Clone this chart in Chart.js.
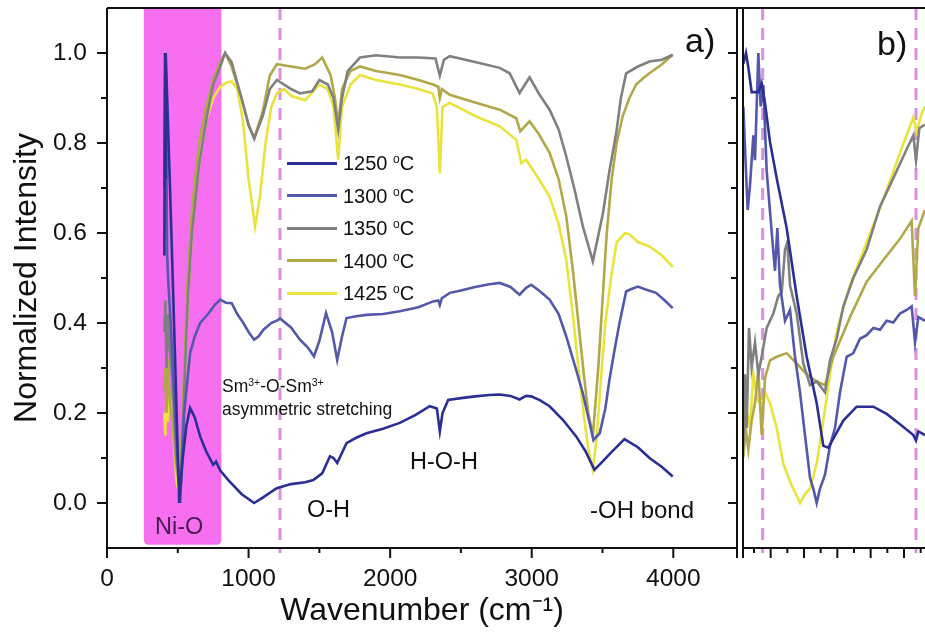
<!DOCTYPE html>
<html>
<head>
<meta charset="utf-8">
<script src="https://cdn.jsdelivr.net/npm/chart.js@4"></script>
<style>
  body { margin: 0; background: #fff; }
  #wrap { position: relative; width: 925px; height: 640px; overflow: hidden;
          font-family: 'Liberation Sans', Arial, sans-serif; color: #111; }
  canvas { position: absolute; top: 0; }
  .lbl { position: absolute; white-space: nowrap; line-height: 1; }
  .lbl sup { font-size: 0.6em; vertical-align: 0.6em; line-height: 0; }
  .key { position: absolute; width: 50px; height: 3px; }
</style>
</head>
<body>
<div id="wrap">
  <canvas id="panelA" width="740" height="640" style="left:0"></canvas>
  <canvas id="panelB" width="185" height="640" style="left:740px"></canvas>

  <div class="lbl" style="left:685px; top:23px; font-size:34px">a)</div>
  <div class="lbl" style="left:877px; top:26px; font-size:34px">b)</div>
  <div class="lbl" style="left:222px; top:378px; font-size:17.5px">Sm<sup>3+</sup>-O-Sm<sup>3+</sup></div>
  <div class="lbl" style="left:222px; top:401px; font-size:17.5px">asymmetric stretching</div>
  <div class="lbl" style="left:307px; top:498px; font-size:23.5px">O-H</div>
  <div class="lbl" style="left:410px; top:450px; font-size:23.5px">H-O-H</div>
  <div class="lbl" style="left:590px; top:498px; font-size:24px">-OH bond</div>
  <div class="lbl" style="left:155px; top:515px; font-size:23.5px; color:#4b1850">Ni-O</div>
  <div id="legend"></div>
</div>

<script>
// ===== Data =====
const labels = ['1250', '1300', '1350', '1400', '1425'];
const colors = ['#2b2f94', '#5358aa', '#808080', '#b1a84a', '#e9e33c'];

const xTicksA = [0, 1000, 2000, 3000, 4000];
const yTicks = [0.0, 0.2, 0.4, 0.6, 0.8, 1.0];

// panel a: [wavenumber, normalized intensity]
const a1250 = [[405,0.55],[410,1.0],[413,0.72],[416,1.0],[420,0.95],[450,0.65],[480,0.33],[510,0.0],[535,0.1],[560,0.17],[587,0.211],[620,0.19],[658,0.148],[700,0.115],[750,0.085],[770,0.092],[800,0.072],[857,0.051],[950,0.02],[1039,0.0],[1100,0.012],[1199,0.033],[1300,0.042],[1400,0.046],[1457,0.051],[1520,0.066],[1575,0.104],[1600,0.1],[1626,0.089],[1692,0.133],[1760,0.145],[1833,0.155],[1950,0.165],[2068,0.178],[2180,0.196],[2280,0.215],[2330,0.21],[2351,0.159],[2370,0.2],[2410,0.229],[2500,0.233],[2600,0.237],[2700,0.24],[2774,0.241],[2850,0.238],[2914,0.23],[2960,0.238],[2997,0.237],[3060,0.228],[3126,0.215],[3220,0.185],[3314,0.148],[3380,0.115],[3443,0.074],[3500,0.092],[3560,0.112],[3655,0.142],[3750,0.124],[3832,0.1],[3920,0.08],[3996,0.059]];
const a1300 = [[405,0.7],[410,0.95],[414,0.6],[418,0.85],[425,0.55],[435,0.48],[450,0.4],[480,0.2],[517,0.0],[545,0.2],[587,0.333],[620,0.37],[658,0.4],[700,0.415],[729,0.426],[760,0.44],[799,0.452],[840,0.445],[881,0.444],[920,0.42],[963,0.4],[1000,0.38],[1039,0.363],[1070,0.37],[1105,0.385],[1160,0.4],[1210,0.407],[1222,0.41],[1300,0.39],[1363,0.363],[1420,0.345],[1462,0.326],[1500,0.36],[1547,0.422],[1590,0.38],[1626,0.318],[1660,0.37],[1692,0.411],[1760,0.415],[1833,0.418],[1950,0.42],[2068,0.426],[2200,0.435],[2303,0.448],[2340,0.45],[2351,0.44],[2365,0.455],[2421,0.467],[2500,0.472],[2600,0.48],[2700,0.486],[2774,0.489],[2850,0.48],[2914,0.463],[2960,0.478],[2997,0.485],[3060,0.47],[3126,0.452],[3190,0.42],[3244,0.37],[3310,0.3],[3361,0.244],[3400,0.19],[3436,0.14],[3480,0.155],[3520,0.21],[3549,0.274],[3585,0.34],[3620,0.4],[3667,0.47],[3700,0.475],[3750,0.481],[3800,0.475],[3878,0.467],[3940,0.45],[3996,0.433]];
const a1350 = [[405,0.38],[412,0.45],[420,0.3],[428,0.42],[440,0.35],[460,0.28],[490,0.1],[515,0.03],[540,0.2],[570,0.45],[600,0.6],[650,0.75],[700,0.85],[750,0.93],[800,0.97],[834,1.0],[880,0.98],[950,0.9],[1000,0.84],[1040,0.81],[1100,0.86],[1150,0.92],[1200,0.94],[1250,0.93],[1300,0.92],[1363,0.91],[1450,0.915],[1500,0.94],[1560,0.93],[1600,0.9],[1633,0.83],[1660,0.9],[1700,0.96],[1787,0.99],[1900,0.995],[2068,0.99],[2200,0.99],[2320,0.988],[2351,0.95],[2380,0.985],[2421,0.993],[2600,0.98],[2774,0.967],[2844,0.955],[2914,0.911],[2985,0.946],[3050,0.91],[3126,0.874],[3190,0.83],[3244,0.77],[3300,0.7],[3361,0.615],[3432,0.537],[3503,0.644],[3550,0.74],[3597,0.822],[3630,0.9],[3667,0.955],[3750,0.97],[3832,0.981],[3920,0.985],[3996,0.996]];
const a1400 = [[405,0.25],[412,0.3],[420,0.2],[430,0.32],[445,0.22],[465,0.18],[490,0.08],[515,0.03],[540,0.25],[570,0.5],[600,0.65],[650,0.8],[700,0.88],[750,0.94],[800,0.98],[834,1.0],[880,0.97],[950,0.9],[1000,0.84],[1040,0.81],[1100,0.87],[1150,0.95],[1200,0.975],[1300,0.97],[1400,0.965],[1470,0.975],[1520,0.99],[1580,0.95],[1610,0.9],[1633,0.84],[1660,0.92],[1720,0.96],[1787,0.97],[1900,0.96],[2068,0.951],[2200,0.94],[2303,0.93],[2340,0.925],[2351,0.9],[2365,0.92],[2421,0.907],[2600,0.89],[2774,0.874],[2891,0.855],[2919,0.826],[2985,0.848],[3050,0.82],[3126,0.778],[3190,0.72],[3244,0.637],[3290,0.52],[3330,0.4],[3370,0.28],[3400,0.2],[3432,0.15],[3470,0.3],[3500,0.45],[3530,0.6],[3565,0.72],[3600,0.8],[3643,0.86],[3690,0.9],[3738,0.93],[3790,0.945],[3832,0.955],[3920,0.975],[3996,0.996]];
const a1425 = [[405,0.2],[412,0.15],[420,0.25],[430,0.18],[440,0.24],[460,0.2],[490,0.05],[510,0.02],[540,0.2],[570,0.45],[600,0.6],[650,0.75],[700,0.85],[750,0.9],[800,0.925],[850,0.935],[880,0.937],[920,0.92],[960,0.85],[1000,0.72],[1046,0.615],[1080,0.68],[1120,0.8],[1160,0.88],[1200,0.91],[1250,0.92],[1300,0.905],[1400,0.895],[1500,0.93],[1560,0.92],[1600,0.88],[1633,0.763],[1660,0.88],[1720,0.93],[1787,0.951],[1900,0.94],[2068,0.93],[2200,0.92],[2300,0.91],[2330,0.88],[2351,0.733],[2370,0.88],[2421,0.889],[2600,0.86],[2774,0.837],[2891,0.807],[2926,0.755],[2960,0.763],[3050,0.72],[3126,0.681],[3190,0.62],[3244,0.54],[3290,0.42],[3330,0.3],[3370,0.19],[3400,0.12],[3432,0.074],[3460,0.15],[3490,0.28],[3520,0.4],[3560,0.5],[3600,0.58],[3660,0.6],[3690,0.597],[3750,0.58],[3832,0.57],[3920,0.55],[3996,0.525]];

// panel b (zoomed low-wavenumber region)
const b1250 = [[409,0.976],[413,1.0],[416.5,0.968],[421.5,0.913],[431.5,0.913],[436.5,0.933],[441.5,0.889],[449,0.802],[459,0.722],[474,0.611],[489,0.46],[504,0.325],[519,0.222],[529,0.127],[536.5,0.123],[544,0.143],[559,0.183],[579,0.214],[604,0.214],[624,0.198],[644,0.175],[664,0.151],[668,0.139],[671.5,0.159],[681.5,0.151]];
const b1300 = [[409,0.881],[412.5,0.754],[415.5,0.651],[419,0.706],[424,0.817],[426.5,0.762],[431.5,1.0],[435,0.881],[439,0.929],[444,0.738],[451.5,0.603],[456.5,0.516],[460,0.611],[464,0.484],[471.5,0.405],[479,0.429],[486.5,0.325],[494,0.246],[501.5,0.151],[509,0.056],[514,0.032],[519,0.0],[524,0.032],[531.5,0.063],[539,0.127],[546.5,0.167],[554,0.246],[564,0.325],[574,0.333],[584,0.365],[594,0.373],[604,0.389],[614,0.385],[624,0.405],[634,0.401],[644,0.421],[654,0.429],[661.5,0.437],[666.5,0.357],[671.5,0.413],[681.5,0.405]];
const b1350 = [[409,0.127],[411.5,0.286],[414,0.167],[417.5,0.389],[421.5,0.302],[426.5,0.357],[431.5,0.286],[436.5,0.325],[444,0.389],[454,0.421],[461.5,0.46],[466.5,0.468],[471.5,0.563],[475,0.579],[479,0.484],[489,0.421],[499,0.31],[509,0.262],[519,0.27],[531.5,0.246],[539,0.317],[549,0.365],[559,0.437],[574,0.5],[594,0.563],[614,0.659],[634,0.722],[654,0.786],[664,0.817],[668,0.762],[673,0.833],[681.5,0.841]];
const b1400 = [[409,0.103],[412.5,0.167],[416.5,0.119],[421.5,0.183],[426.5,0.222],[431.5,0.294],[436.5,0.151],[441.5,0.278],[449,0.317],[459,0.325],[474,0.333],[489,0.31],[504,0.286],[519,0.27],[531.5,0.262],[544,0.325],[569,0.413],[594,0.492],[619,0.54],[644,0.587],[661.5,0.627],[666.5,0.46],[671.5,0.611],[681.5,0.651]];
const b1425 = [[409,0.151],[414,0.206],[419,0.167],[424,0.286],[430,0.23],[436.5,0.214],[441.5,0.246],[449,0.222],[459,0.167],[469,0.087],[479,0.048],[489,0.016],[494,0.0],[501.5,0.02],[509,0.032],[519,0.087],[529,0.183],[539,0.286],[549,0.381],[569,0.484],[594,0.579],[619,0.675],[644,0.778],[664,0.857],[669,0.825],[676.5,0.865],[681.5,0.881]];

const seriesA = [a1250, a1300, a1350, a1400, a1425];
const seriesB = [b1250, b1300, b1350, b1400, b1425];

const niOBand = [260, 808];
const markA = [1222];
const markB = [438, 668];

// ===== Helpers =====
Chart.defaults.font.family = "'Liberation Sans', Arial, sans-serif";
Chart.defaults.color = '#111';

function toDatasets(list) {
    return list.map((pts, i) => ({
        label: labels[i] + ' °C',
        data: pts.map(([x, y]) => ({ x, y })),
        borderColor: colors[i],
        borderWidth: 2.6,
        pointRadius: 0,
        tension: 0
    }));
}

function dashedLines(chart, values) {
    const { ctx, chartArea: { top, bottom }, scales: { x } } = chart;
    ctx.save();
    ctx.strokeStyle = '#dc8ee3';
    ctx.lineWidth = 3;
    ctx.setLineDash([12, 8]);
    values.forEach(v => {
        const px = x.getPixelForValue(v);
        ctx.beginPath();
        ctx.moveTo(px, top);
        ctx.lineTo(px, bottom + 5);
        ctx.stroke();
    });
    ctx.restore();
}

// ===== Panel a decorations =====
const decorA = {
    id: 'decorA',
    beforeDatasetsDraw(chart) {
        const { ctx, chartArea: { top }, scales: { x, y } } = chart;
        const x0 = x.getPixelForValue(niOBand[0]);
        const x1 = x.getPixelForValue(niOBand[1]);
        const yb = y.getPixelForValue(-0.093);
        ctx.save();
        ctx.fillStyle = '#f66ff1';
        ctx.beginPath();
        ctx.roundRect(x0, top, x1 - x0, yb - top, [0, 0, 5, 5]);
        ctx.fill();
        ctx.restore();
        dashedLines(chart, markA);
    },
    afterDraw(chart) {
        const { ctx, chartArea: { left, right, top, bottom }, scales: { x, y } } = chart;
        ctx.save();
        ctx.strokeStyle = '#111';
        ctx.lineWidth = 2;
        ctx.beginPath();
        ctx.moveTo(left, top); ctx.lineTo(right + 3, top);
        ctx.moveTo(left, top); ctx.lineTo(left, bottom);
        ctx.moveTo(left, bottom); ctx.lineTo(right, bottom);
        ctx.moveTo(right, top); ctx.lineTo(right, bottom + 10);
        for (let v = 0; v <= 4000; v += 500) {
            const px = x.getPixelForValue(v);
            ctx.moveTo(px, bottom);
            ctx.lineTo(px, bottom + (v % 1000 === 0 ? 10 : 5));
        }
        for (let i = 0; i <= 10; i++) {
            const py = y.getPixelForValue(i / 10);
            const len = i % 2 === 0 ? 10 : 6;
            ctx.moveTo(left - len, py); ctx.lineTo(left, py);
            ctx.moveTo(right, py); ctx.lineTo(right - (i % 2 === 0 ? 9 : 6), py);
        }
        ctx.stroke();
        ctx.restore();
    }
};

// ===== Panel b decorations =====
const decorB = {
    id: 'decorB',
    beforeDatasetsDraw(chart) {
        dashedLines(chart, markB);
    },
    afterDraw(chart) {
        const { ctx, chartArea: { left, right, top, bottom }, scales: { x } } = chart;
        ctx.save();
        ctx.strokeStyle = '#111';
        ctx.lineWidth = 2;
        ctx.beginPath();
        ctx.moveTo(0, top); ctx.lineTo(right, top);
        ctx.moveTo(left, top); ctx.lineTo(left, bottom + 10);
        ctx.moveTo(left, bottom); ctx.lineTo(right, bottom);
        for (let v = 425; v <= 675; v += 25) {
            const px = x.getPixelForValue(v);
            ctx.moveTo(px, bottom);
            ctx.lineTo(px, bottom + (v % 50 === 0 ? 10 : 5));
        }
        ctx.stroke();
        ctx.restore();
    }
};

// ===== Panel a =====
new Chart(document.getElementById('panelA'), {
    type: 'line',
    data: { datasets: toDatasets(seriesA) },
    options: {
        responsive: false,
        animation: false,
        layout: { padding: { left: 0, top: 8, right: 3, bottom: 0 } },
        plugins: { legend: { display: false }, tooltip: { enabled: false } },
        scales: {
            x: {
                type: 'linear', min: 0, max: 4450,
                grid: { display: false, drawTicks: false },
                border: { display: false },
                afterBuildTicks: s => { s.ticks = xTicksA.map(v => ({ value: v })); },
                afterFit: s => { s.height = 92; s.paddingLeft = 0; s.paddingRight = 0; },
                ticks: { font: { size: 24.5 }, padding: 17, maxRotation: 0, autoSkip: false,
                         callback: v => String(v) },
                title: { display: true, text: 'Wavenumber (cm⁻¹)', font: { size: 32 },
                         padding: { top: 0, bottom: 10 } }
            },
            y: {
                type: 'linear', min: -0.1, max: 1.1,
                grid: { display: false, drawTicks: false },
                border: { display: false },
                afterBuildTicks: s => { s.ticks = yTicks.map(v => ({ value: v })); },
                afterFit: s => { s.width = 107; s.paddingTop = 0; s.paddingBottom = 0; },
                ticks: { font: { size: 24.5 }, padding: 20, autoSkip: false,
                         callback: v => v.toFixed(1) },
                title: { display: true, text: 'Normalized Intensity', font: { size: 32 },
                         padding: { top: 8, bottom: 0 } }
            }
        }
    },
    plugins: [decorA]
});

// ===== Panel b =====
new Chart(document.getElementById('panelB'), {
    type: 'line',
    data: { datasets: toDatasets(seriesB) },
    options: {
        responsive: false,
        animation: false,
        layout: { padding: { left: 3, top: 8, right: 0, bottom: 0 } },
        plugins: { legend: { display: false }, tooltip: { enabled: false } },
        scales: {
            x: {
                type: 'linear', min: 408.5, max: 681.5,
                grid: { display: false, drawTicks: false },
                border: { display: false },
                afterFit: s => { s.height = 92; },
                ticks: { display: false }
            },
            y: { type: 'linear', min: -0.1, max: 1.1, display: false }
        }
    },
    plugins: [decorB]
});

// ===== Legend =====
const legend = document.getElementById('legend');
labels.forEach((lab, i) => {
    const cy = 163 + i * 32.5;
    const key = document.createElement('div');
    key.className = 'key';
    key.style.left = '287px';
    key.style.top = (cy - 1.5) + 'px';
    key.style.background = colors[i];
    legend.appendChild(key);
    const txt = document.createElement('div');
    txt.className = 'lbl';
    txt.style.left = '343px';
    txt.style.top = (cy - 10) + 'px';
    txt.style.fontSize = '20px';
    txt.innerHTML = lab + ' <sup>o</sup>C';
    legend.appendChild(txt);
});
</script>
</body>
</html>
